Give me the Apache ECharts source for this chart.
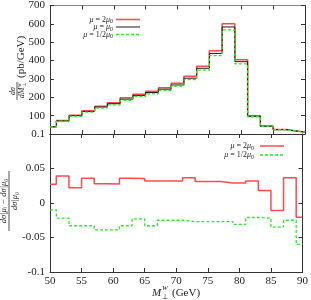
<!DOCTYPE html>
<html><head><meta charset="utf-8">
<script src="https://cdn.jsdelivr.net/npm/echarts@6/dist/echarts.min.js"></script>
<style>html,body{margin:0;padding:0;background:#fff}#c{width:311px;height:300px}</style>
</head><body><div id="c"></div>
<script>
// Bin edges (GeV)
const edges = [50,51,53,55,57,59,61,63,65,67,69,71,73,75,77,79,81,83,85,87,89,90];
// dσ/dM (pb/GeV) per bin
const muTwo  = [40,74,102,127,151,170,197,217,233,252,276,315,369,453,600,405,99,43,24,15.5,9.8];
const muOne  = [39,71,100,123,147,165,190,210,226,244,267,304,358,439,583,394,96,42,24,15,10];
const muHalf = [38.6,69.4,96.7,118.9,141.3,158.6,183.7,205.2,218.5,237.9,260.3,295.8,348.3,427.1,567.3,381.8,94,41.1,23.2,14.6,9.4];
// relative deviations
const ratioTwo  = [0.027,0.039,0.022,0.036,0.028,0.0275,0.036,0.0355,0.032,0.032,0.032,0.0365,0.031,0.031,0.029,0.029,0.032,0.018,-0.011,0.0365,-0.0206];
const ratioHalf = [-0.010,-0.022,-0.033,-0.033,-0.039,-0.039,-0.033,-0.023,-0.033,-0.025,-0.025,-0.027,-0.027,-0.027,-0.027,-0.031,-0.021,-0.022,-0.035,-0.025,-0.060];
const xTicks = [50,55,60,65,70,75,80,85,90];

const F = 'Liberation Serif, Times New Roman, serif';
const RED = '#ff4a4a', BLK = '#1a1a1a', GRN = '#22ee22';

function steps(vals){
  const d = vals.map((v,i)=>[edges[i], v]);
  d.push([edges[edges.length-1], vals[vals.length-1]]);
  return d;
}
function xAx(grid, pos, labels, col){
  return {type:'value', gridIndex:grid, position:pos, min:50, max:90, interval:5,
    axisLine:{show:true, onZero:false, lineStyle:{color:col||'#333', width:1}},
    axisTick:{show:true, inside:true, length:4, lineStyle:{color:'#333'}},
    splitLine:{show:false},
    axisLabel:{show:labels, fontFamily:F, fontSize:11, color:'#222', margin:4}};
}
function yAx(grid, pos, labels, min, max, interval, fmt){
  return {type:'value', gridIndex:grid, position:pos, min:min, max:max, interval:interval,
    axisLine:{show:true, onZero:false, lineStyle:{color:'#333', width:1}},
    axisTick:{show:true, inside:true, length:4, lineStyle:{color:'#333'}},
    splitLine:{show:false},
    axisLabel:{show:labels, fontFamily:F, fontSize:11, color:'#222', margin:5, formatter:fmt}};
}
const rich = {
  i:{fontStyle:'italic', fontFamily:F, fontSize:8, lineHeight:10, fill:'#222'},
  n:{fontFamily:F, fontSize:8, lineHeight:10, fill:'#222'},
  s:{fontFamily:F, fontSize:6, lineHeight:5, verticalAlign:'bottom', fill:'#222'}
};
function legendRow(y, textR, x1, x2, label, color, dash, w){
  return [
    {type:'text', x:textR, y:y, style:{text:label, rich:rich, align:'right', verticalAlign:'middle', fontFamily:F, fontSize:8, fill:'#222'}},
    {type:'line', shape:{x1:x1, y1:y, x2:x2, y2:y}, style:{stroke:color, lineWidth:w, lineDash:dash}}
  ];
}
const option = {
  animation:false,
  backgroundColor:'#fff',
  grid:[{left:50, right:6, top:5, height:129}, {left:50, right:6, top:134, height:138}],
  xAxis:[xAx(0,'bottom',false), xAx(0,'top',false,'#888'), xAx(1,'bottom',true), xAx(1,'top',false)],
  yAxis:[
    yAx(0,'left',true,0,700,100,v=>v===0?'0.1':String(v)),
    yAx(0,'right',false,0,700,100),
    yAx(1,'left',true,-0.1,0.1,0.05,v=>{ if(Math.abs(v)<1e-9) return '0'; if(Math.abs(v-0.1)<1e-9) return ''; return String(+v.toFixed(2)); }),
    yAx(1,'right',false,-0.1,0.1,0.05)
  ],
  series:[
    {type:'line', step:'end', symbol:'none', xAxisIndex:0, yAxisIndex:0, data:steps(muTwo), lineStyle:{color:RED, width:1.5}},
    {type:'line', step:'end', symbol:'none', xAxisIndex:0, yAxisIndex:0, data:steps(muOne), lineStyle:{color:BLK, width:1}},
    {type:'line', step:'end', symbol:'none', xAxisIndex:0, yAxisIndex:0, data:steps(muHalf), lineStyle:{color:GRN, width:1.3, type:[3,2]}},
    {type:'line', step:'end', symbol:'none', xAxisIndex:2, yAxisIndex:2, data:steps(ratioTwo), lineStyle:{color:RED, width:1.5}},
    {type:'line', step:'end', symbol:'none', xAxisIndex:2, yAxisIndex:2, data:steps(ratioHalf), lineStyle:{color:GRN, width:1.3, type:[3,2]}}
  ],
  graphic:[].concat(
    legendRow(19.5, 113, 116, 140, '{i|μ}{n| = 2}{i|μ}{s|0}', RED, null, 1.5),
    legendRow(27, 113, 116, 140, '{i|μ}{n| = }{i|μ}{s|0}', BLK, null, 1),
    legendRow(34.5, 113, 116, 140, '{i|μ}{n| = 1/2}{i|μ}{s|0}', GRN, [3,2], 1.3),
    legendRow(146, 254, 260, 284, '{i|μ}{n| = 2}{i|μ}{s|0}', RED, null, 1.5),
    legendRow(155, 254, 260, 284, '{i|μ}{n| = 1/2}{i|μ}{s|0}', GRN, [3,2], 1.3),
    [
      // top y title
      {type:'group', x:17, y:65, rotation:Math.PI/2, children:[
        {type:'text', x:-26, y:-0.5, style:{text:'dσ', align:'center', verticalAlign:'bottom', fontFamily:F, fontStyle:'italic', fontSize:8, fill:'#222'}},
        {type:'line', shape:{x1:-35, y1:0, x2:-17, y2:0}, style:{stroke:'#222', lineWidth:0.8}},
        {type:'text', x:-28, y:1, style:{text:'dM', align:'center', verticalAlign:'top', fontFamily:F, fontStyle:'italic', fontSize:8, fill:'#222'}},
        {type:'text', x:-22, y:0.5, style:{text:'W', align:'left', verticalAlign:'top', fontFamily:F, fontStyle:'italic', fontSize:5, fill:'#222'}},
        {type:'text', x:-22, y:5.5, style:{text:'⊥', align:'left', verticalAlign:'top', fontFamily:F, fontSize:5, fill:'#222'}},
        {type:'text', x:-13, y:4, style:{text:'(pb/GeV)', align:'left', verticalAlign:'middle', fontFamily:F, fontSize:11, fill:'#222'}}
      ]},
      // bottom y title
      {type:'group', x:9, y:201, rotation:Math.PI/2, children:[
        {type:'text', x:0, y:-0.5, style:{text:'dσ|μᵢ − dσ|μ₀', align:'center', verticalAlign:'bottom', fontFamily:F, fontStyle:'italic', fontSize:8.5, fill:'#222'}},
        {type:'line', shape:{x1:-30, y1:0, x2:30, y2:0}, style:{stroke:'#222', lineWidth:0.8}},
        {type:'text', x:0, y:1, style:{text:'dσ|μ₀', align:'center', verticalAlign:'top', fontFamily:F, fontStyle:'italic', fontSize:8.5, fill:'#222'}}
      ]},
      // x title
      {type:'text', x:152, y:293, style:{text:'M', align:'left', verticalAlign:'middle', fontFamily:F, fontStyle:'italic', fontSize:11, fill:'#222'}},
      {type:'text', x:162, y:288, style:{text:'W', align:'left', verticalAlign:'middle', fontFamily:F, fontStyle:'italic', fontSize:7, fill:'#222'}},
      {type:'text', x:162, y:297, style:{text:'⊥', align:'left', verticalAlign:'middle', fontFamily:F, fontSize:7, fill:'#222'}},
      {type:'text', x:172, y:293, style:{text:'(GeV)', align:'left', verticalAlign:'middle', fontFamily:F, fontSize:11, fill:'#222'}}
    ]
  )
};
echarts.init(document.getElementById('c'), null, {renderer:'canvas'}).setOption(option);
</script></body></html>
